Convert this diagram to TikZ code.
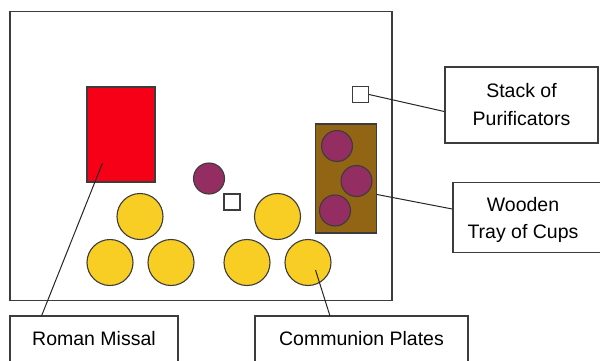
\documentclass[tikz,border=0pt]{standalone}
\usepackage{fontspec}
\setmainfont{Liberation Sans}
\definecolor{missalred}{RGB}{246,0,24}
\definecolor{plateyellow}{RGB}{248,205,36}
\definecolor{cuppurple}{RGB}{148,45,98}
\definecolor{traybrown}{RGB}{146,101,20}
\definecolor{edge}{RGB}{60,60,60}
\begin{document}
\begin{tikzpicture}[x=1pt,y=-1pt,
  frame/.style={draw=edge,line width=1.5pt},
  item/.style={draw=edge,line width=1.1pt},
  plate/.style={circle,item,fill=plateyellow,minimum size=46pt,inner sep=0pt},
  cup/.style={circle,item,fill=cuppurple,minimum size=31pt,inner sep=0pt},
  purif/.style={rectangle,item,fill=white,minimum size=16pt,inner sep=0pt},
  label/.style={rectangle,frame,fill=white,align=center,font=\fontsize{19.5}{27.5}\selectfont,inner sep=0pt},
  leader/.style={draw=black!85,line width=1pt}]
\useasboundingbox (0,0) rectangle (600,360);
% table
\node[frame,rectangle,minimum width=382pt,minimum height=289pt,inner sep=0pt] (table) at (201,156) {};
% missal
\node[rectangle,item,fill=missalred,minimum width=68pt,minimum height=95pt,inner sep=0pt] (missal) at (121,134.5) {};
% single cup and purificator
\node[cup] (cup0) at (209,178.5) {};
\node[purif] (purif0) at (232,202) {};
% plates
\node[plate] (p1) at (140,216.5) {};
\node[plate] (p2) at (110,262.5) {};
\node[plate] (p3) at (171,262.5) {};
\node[plate] (p4) at (277.5,216.5) {};
\node[plate] (p5) at (247,262.5) {};
\node[plate] (p6) at (308,262.5) {};
% tray
\node[rectangle,item,fill=traybrown,minimum width=61pt,minimum height=109pt,inner sep=0pt] (tray) at (346,178.5) {};
\node[cup] (c1) at (337,146) {};
\node[cup] (c2) at (356.5,181) {};
\node[cup] (c3) at (335,210.5) {};
% purificator stack
\node[purif] (purif1) at (360.5,94.5) {};
% labels
\node[label,minimum width=153pt,minimum height=76pt] (lpurif) at (521.5,105) {};
\node[font=\fontsize{19.5}{27.5}\selectfont,align=center] at (521.5,104.5) {Stack of\\Purificators};
\node[label,minimum width=150pt,minimum height=70pt] (ltray) at (528,217.5) {};
\node[font=\fontsize{19.5}{27.5}\selectfont,align=center] at (523,220) {Wooden\\Tray of Cups};
\node[label,minimum width=168pt,minimum height=60pt] (lmissal) at (94,346) {};
\node[font=\fontsize{19.5}{23}\selectfont] at (94,338.5) {Roman Missal};
\node[label,minimum width=213pt,minimum height=60pt] (lplates) at (361.5,346) {};
\node[font=\fontsize{19.5}{23}\selectfont] at (361.5,338.5) {Communion Plates};
% leaders
\coordinate (mA) at (102.5,163);
\coordinate (mB) at (41.5,316);
\draw[leader] (mA) -- (mB);
\coordinate (cA) at (315.5,270);
\coordinate (cB) at (330,316);
\draw[leader] (cA) -- (cB);
\draw[leader] (purif1.east) -- (lpurif.west |- 0,111.5);
\draw[leader] (tray.east |- 0,194.5) -- (ltray.west |- 0,209);
\end{tikzpicture}
\end{document}
